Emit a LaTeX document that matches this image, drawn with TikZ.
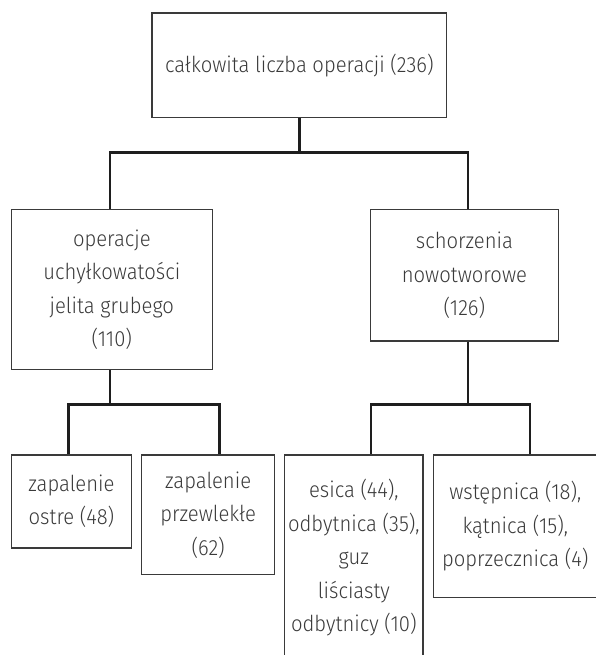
\documentclass[tikz,border=0pt]{standalone}
\usepackage{fontspec}
\setmainfont{Fira Sans}[UprightFont={* Light},FakeStretch=0.92]
\begin{document}
\definecolor{boxline}{HTML}{3A3A3A}
\definecolor{linkline}{HTML}{1E1E1E}
\definecolor{textgray}{HTML}{3A3A3A}
\begin{tikzpicture}[x=1pt,y=-1pt,
  box/.style={draw=boxline,line width=1.3pt,rectangle,inner sep=0pt,
    anchor=north west,align=center,text=textgray,
    font=\fontsize{22}{33.5}\selectfont},
  conn/.style={draw=linkline,line width=2.4pt}]
\useasboundingbox (0,0) rectangle (595,655);
% level 0
\node[box,minimum width=294.5pt,minimum height=104.5pt] (root) at (151.4,12.3)
  {całkowita liczba operacji (236)};
% level 1
\node[box,minimum width=201.2pt,minimum height=160pt] (div) at (10.6,209)
  {operacje\\uchyłkowatości\\jelita grubego\\(110)};
\node[box,minimum width=188.3pt,minimum height=131.3pt] (neo) at (369.6,209)
  {schorzenia\\nowotworowe\\(126)};
% level 2
\node[box,minimum width=120.4pt,minimum height=93pt] (acute) at (10.6,454.3)
  {zapalenie\\ostre (48)};
\node[box,minimum width=133pt,minimum height=119.7pt] (chronic) at (141,454.3)
  {zapalenie\\przewlekłe\\(62)};
\node[box,minimum width=138.4pt,minimum height=206pt] (sigmoid) at (284,454.3)
  {esica (44),\\odbytnica (35),\\guz\\liściasty\\odbytnicy (10)};
\node[box,minimum width=164pt,minimum height=142.4pt] (colon) at (432.6,454.3)
  {wstępnica (18),\\kątnica (15),\\poprzecznica (4)};
% junctions
\coordinate (j0) at (299.4,152.7);
\coordinate (j0l) at (110,152.7);
\coordinate (j0r) at (468,152.7);
\coordinate (j1) at (110,404.5);
\coordinate (j1l) at (68.3,404.5);
\coordinate (j1r) at (219.4,404.5);
\coordinate (j2) at (468,404.5);
\coordinate (j2l) at (371,404.5);
\coordinate (j2r) at (530,404.5);
% connectors
\draw[conn] (root.south -| j0) -- (j0);
\draw[conn,line cap=rect] (j0l) -- (j0r);
\draw[conn] (j0l) -- (div.north -| j0l);
\draw[conn] (j0r) -- (neo.north -| j0r);
\draw[conn] (div.south -| j1) -- (j1);
\draw[conn,line cap=rect] (j1l) -- (j1r);
\draw[conn] (j1l) -- (acute.north -| j1l);
\draw[conn] (j1r) -- (chronic.north -| j1r);
\draw[conn] (neo.south -| j2) -- (j2);
\draw[conn,line cap=rect] (j2l) -- (j2r);
\draw[conn] (j2l) -- (sigmoid.north -| j2l);
\draw[conn] (j2r) -- (colon.north -| j2r);
\end{tikzpicture}
\end{document}
